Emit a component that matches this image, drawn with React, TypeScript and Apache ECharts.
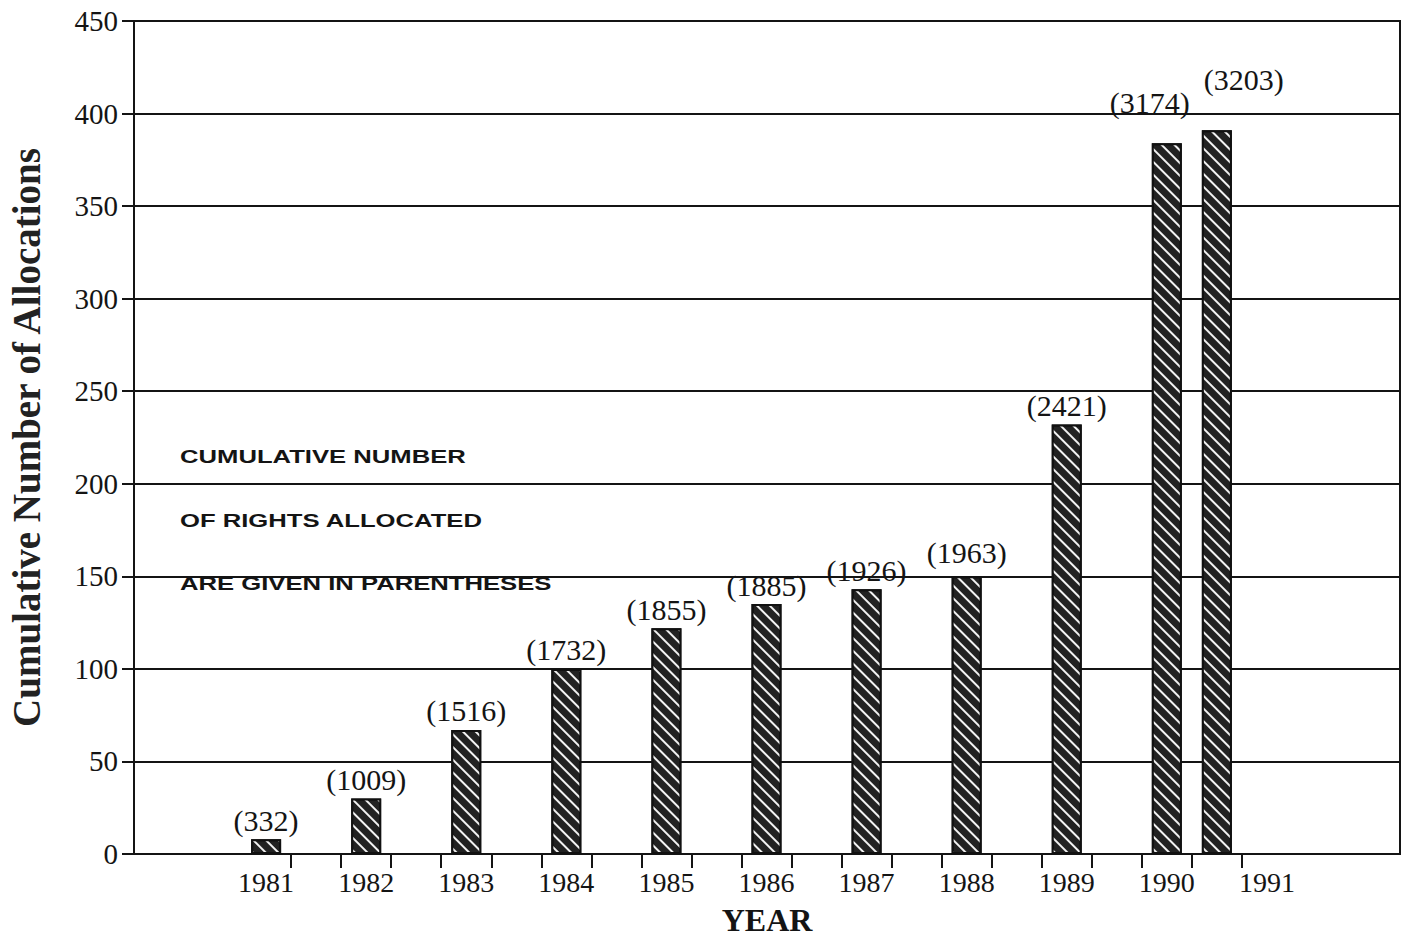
import React, { useEffect, useRef } from "react";
import * as echarts from "echarts";

// ---- data ----
const yearLabels = [1981, 1982, 1983, 1984, 1985, 1986, 1987, 1988, 1989, 1990, 1991];
const barPositions = [1981, 1982, 1983, 1984, 1985, 1986, 1987, 1988, 1989, 1990, 1990.5];
const allocations = [8, 30, 67, 100, 122, 135, 143, 150, 232, 384, 391];
const cumulativeRights = [332, 1009, 1516, 1732, 1855, 1885, 1926, 1963, 2421, 3174, 3203];
const tickMarks = [
  1981.25, 1981.75, 1982.25, 1982.75, 1983.25, 1983.75, 1984.25, 1984.75, 1985.25, 1985.75,
  1986.25, 1986.75, 1987.25, 1987.75, 1988.25, 1988.75, 1989.25, 1989.75, 1990.25, 1990.75,
];
const xMin = 1979.68;
const xMax = 1992.33;
const yMin = 0;
const yMax = 450;
const yStep = 50;
const yTitle = "Cumulative Number of Allocations";
const xTitle = "YEAR";
const noteLines = ["CUMULATIVE NUMBER", "OF RIGHTS ALLOCATED", "ARE GIVEN IN PARENTHESES"];

// label nudges (style only)
const labelOffsets: Record<number, [number, number]> = {
  7: [0, -5],
  9: [-17, -22],
  10: [27, -32],
};

const SERIF = "'Liberation Serif', 'DejaVu Serif', serif";
const SANS = "'Liberation Sans', Arial, sans-serif";
const INK = "#141414";

export default function App() {
  const ref = useRef<HTMLDivElement>(null);

  useEffect(() => {
    if (!ref.current) return;
    const chart = echarts.init(ref.current, undefined, { renderer: "svg" });

    const barData = barPositions.map((x, i) => {
      const item: any = { value: [x, allocations[i]] };
      if (labelOffsets[i]) item.label = { offset: labelOffsets[i] };
      return item;
    });

    const noteY = [457, 521, 584];

    chart.setOption({
      animation: false,
      backgroundColor: "#ffffff",
      grid: {
        left: 134,
        right: 6,
        top: 21,
        bottom: 85,
        containLabel: false,
        outerBoundsMode: "none",
        show: true,
        borderColor: INK,
        borderWidth: 2,
        backgroundColor: "transparent",
      },
      xAxis: {
        type: "value",
        min: xMin,
        max: xMax,
        name: xTitle,
        nameLocation: "middle",
        nameGap: 50,
        nameTextStyle: { fontFamily: SERIF, fontSize: 32, fontWeight: "bold", color: INK },
        axisLine: { show: true, onZero: true, lineStyle: { color: INK, width: 2 } },
        axisTick: {
          show: true,
          length: 14,
          inside: false,
          customValues: tickMarks,
          lineStyle: { color: INK, width: 2 },
        },
        axisLabel: {
          show: true,
          customValues: yearLabels,
          margin: 14,
          fontFamily: SERIF,
          fontSize: 28,
          color: INK,
          formatter: (v: number) => String(v),
        },
        splitLine: { show: false },
      },
      yAxis: {
        type: "value",
        min: yMin,
        max: yMax,
        interval: yStep,
        name: yTitle,
        nameLocation: "middle",
        nameGap: 88,
        nameTextStyle: { fontFamily: SERIF, fontSize: 39, fontWeight: "bold", color: "#222" },
        axisLine: { show: true, lineStyle: { color: INK, width: 2 } },
        axisTick: { show: true, length: 12, inside: false, lineStyle: { color: INK, width: 2 } },
        axisLabel: {
          margin: 16,
          fontFamily: SERIF,
          fontSize: 29,
          color: INK,
        },
        splitLine: { show: true, lineStyle: { color: INK, width: 2 } },
      },
      series: [
        {
          type: "bar",
          data: barData,
          barWidth: 30,
          itemStyle: {
            color: "#222",
            borderColor: "#111",
            borderWidth: 2,
            decal: {
              symbol: "rect",
              symbolSize: 1,
              color: "#f2f2f2",
              dashArrayX: [1, 0],
              dashArrayY: [2, 7],
              rotation: Math.PI / 4,
            },
          },
          label: {
            show: true,
            position: "top",
            distance: 4,
            fontFamily: SERIF,
            fontSize: 30,
            color: INK,
            formatter: (p: any) => `(${cumulativeRights[p.dataIndex]})`,
          },
        },
      ],
      graphic: noteLines.map((t, i) => ({
        type: "text",
        x: 180,
        y: noteY[i],
        scaleX: 1.35,
        z: 10,
        style: {
          text: t,
          x: 0,
          y: 0,
          fill: INK,
          font: `bold 19px ${SANS}`,
          verticalAlign: "middle",
          align: "left",
        },
      })),
    });

    return () => chart.dispose();
  }, []);

  return (
    <div
      ref={ref}
      style={{ position: "fixed", left: 0, top: 0, width: 1406, height: 939, background: "#fff" }}
    />
  );
}
